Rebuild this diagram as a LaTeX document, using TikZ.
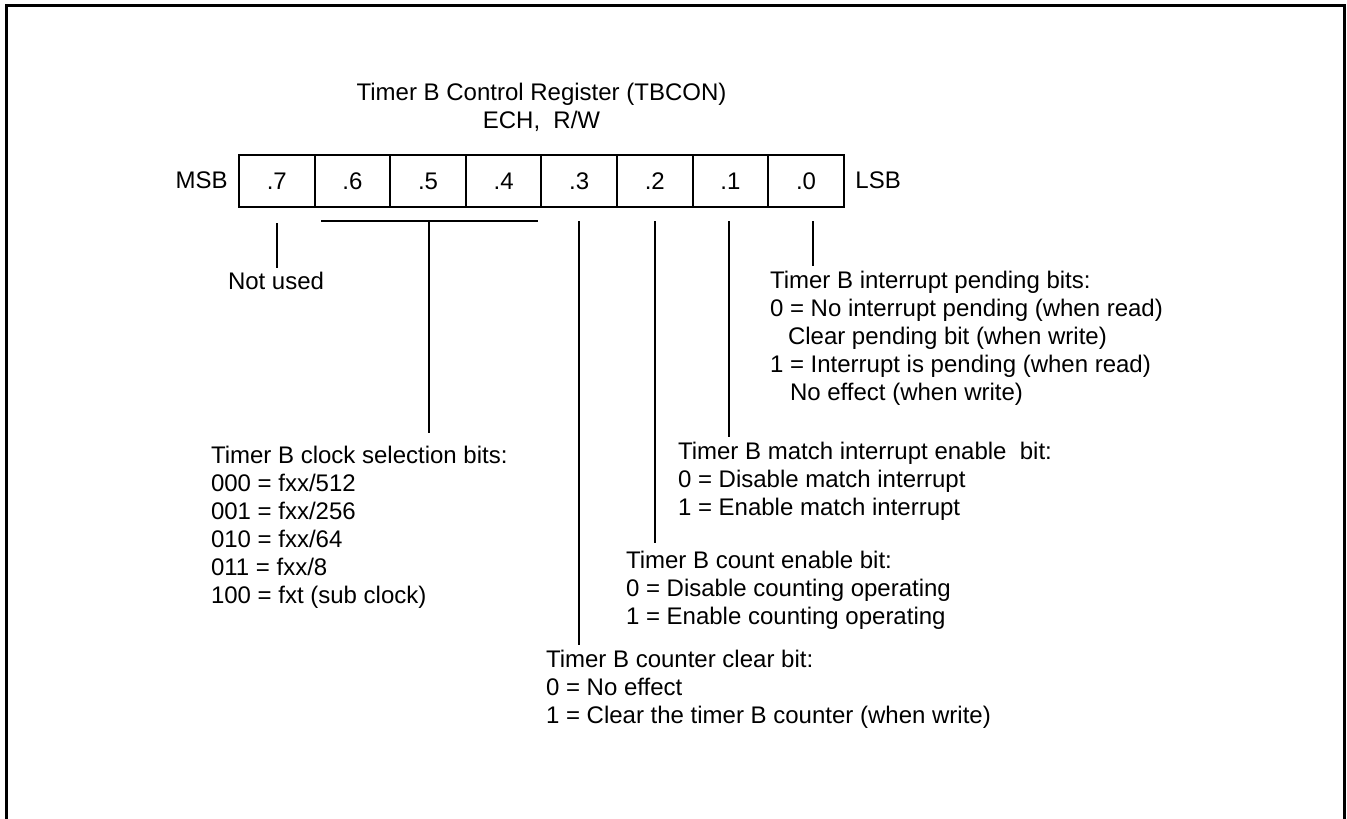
\documentclass[tikz,border=0pt]{standalone}
\usepackage{fontspec}
\setmainfont{Liberation Sans}
\newcommand{\regtxt}[1]{\begin{tabular}[t]{@{}l@{}}#1\end{tabular}}
\newcommand{\regtxtc}[1]{\begin{tabular}[t]{@{}c@{}}#1\end{tabular}}
\begin{document}
\begin{tikzpicture}[x=0.5pt,y=-0.5pt,
  font=\fontsize{12}{14}\selectfont,
  cell/.style={draw,line width=1pt,minimum width=37.8pt,minimum height=26pt,inner sep=0pt,outer sep=0pt},
  txt/.style={inner sep=0pt,outer sep=0pt,anchor=base west},
  wire/.style={line width=1pt}]
\useasboundingbox (0,0) rectangle (1347,818);
% frame (open at bottom)
\draw[line width=1.5pt] (6,820) -- (6,6) -- (1344.5,6) -- (1344.5,820);
% title
\node[inner sep=0pt,anchor=base] (title) at (541.5,101) {\regtxtc{Timer B Control Register (TBCON)\\ECH,\ \ R/W}};
% register cells
\node[cell] (b7) at (276.8,181) {.7};
\node[cell] (b6) at (352.4,181) {.6};
\node[cell] (b5) at (428,181) {.5};
\node[cell] (b4) at (503.6,181) {.4};
\node[cell] (b3) at (579.2,181) {.3};
\node[cell] (b2) at (654.8,181) {.2};
\node[cell] (b1) at (730.4,181) {.1};
\node[cell] (b0) at (806,181) {.0};
\node[inner sep=0pt,anchor=base east] (msb) at (228,189) {MSB};
\node[inner sep=0pt,anchor=base west] (lsb) at (855,189) {LSB};
% descriptions
\node[txt] (nu) at (228,289) {Not used};
\node[txt] (d0) at (770,288) {\regtxt{Timer B interrupt pending bits:\\
0 = No interrupt pending (when read)\\
\hspace{9pt}Clear pending bit (when write)\\
1 = Interrupt is pending (when read)\\
\hspace{10pt}No effect (when write)}};
\node[txt] (d654) at (211,463) {\regtxt{Timer B clock selection bits:\\
000 = fxx/512\\
001 = fxx/256\\
010 = fxx/64\\
011 = fxx/8\\
100 = fxt (sub clock)}};
\node[txt] (d1) at (678,459) {\regtxt{Timer B match interrupt enable\ \ bit:\\
0 = Disable match interrupt\\
1 = Enable match interrupt}};
\node[txt] (d2) at (626,568) {\regtxt{Timer B count enable bit:\\
0 = Disable counting operating\\
1 = Enable counting operating}};
\node[txt] (d3) at (546,667) {\regtxt{Timer B counter clear bit:\\
0 = No effect\\
1 = Clear the timer B counter (when write)}};
% connector end points
\coordinate (t7) at (277,223);
\coordinate (e7) at (277,268);
\coordinate (barl) at (321,221);
\coordinate (barr) at (538,221);
\coordinate (t5) at (429,221);
\coordinate (e5) at (429,433);
\coordinate (t3) at (579,221);
\coordinate (e3) at (579,645);
\coordinate (t2) at (655,221);
\coordinate (e2) at (655,543);
\coordinate (t1) at (729,221);
\coordinate (e1) at (729,437);
\coordinate (t0) at (813,221);
\coordinate (e0) at (813,266);
\draw[wire] (t7) -- (e7);
\draw[wire] (barl) -- (barr);
\draw[wire] (t5) -- (e5);
\draw[wire] (t3) -- (e3);
\draw[wire] (t2) -- (e2);
\draw[wire] (t1) -- (e1);
\draw[wire] (t0) -- (e0);
\end{tikzpicture}
\end{document}
